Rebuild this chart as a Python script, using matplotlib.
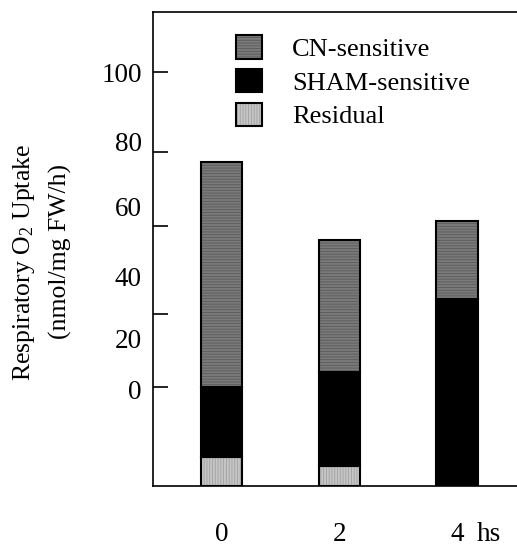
import matplotlib
matplotlib.use("Agg")
import matplotlib.pyplot as plt
from matplotlib.patches import Patch
from matplotlib.ticker import FixedLocator, FixedFormatter, NullFormatter

# values (baseline = bottom of the axis)
times = ["0", "2", "4"]
residual = [7.0, 4.8, 0.0]
sham = [17.0, 22.8, 45.2]
cn = [54.3, 31.8, 18.9]

# tick marks and tick labels do not line up in the original figure
ytick_marks = [100, 80.7, 62.8, 41.5, 23.9]
ylabel_pos = [100, 83.3, 67.4, 50.7, 35.7, 23.4]
ylabel_txt = ["100", "80", "60", "40", "20", "0"]

plt.rcParams["font.family"] = ["Liberation Serif", "DejaVu Serif"]
plt.rcParams["mathtext.fontset"] = "custom"
plt.rcParams["mathtext.rm"] = "Liberation Serif"
plt.rcParams["mathtext.it"] = "Liberation Serif:italic"
plt.rcParams["hatch.linewidth"] = 0.6

CN_FACE, CN_HATCH = "#7a7a7a", "#5a5a5a"
RES_FACE, RES_HATCH = "#c6c6c6", "#a0a0a0"

fig = plt.figure(figsize=(5.17, 5.47), dpi=100)
ax = fig.add_axes([153 / 517, 1 - 486 / 547, 1 - 153 / 517, (486 - 12) / 547])

x = list(range(len(times)))
w = 0.35
bot_sham = residual
bot_cn = [r + s for r, s in zip(residual, sham)]


def hatched(vals, bottom, face, hcol, hatch):
    ax.bar(x, vals, w, bottom=bottom, color=face, edgecolor="none", linewidth=0)
    ax.bar(x, vals, w, bottom=bottom, facecolor="none", edgecolor=hcol,
           hatch=hatch, linewidth=0)
    for xi, v, b in zip(x, vals, bottom):
        if v > 0:
            ax.bar(xi, v, w, bottom=b, facecolor="none", edgecolor="black",
                   linewidth=1.5)


hatched(residual, [0, 0, 0], RES_FACE, RES_HATCH, "|" * 6)
ax.bar(x, sham, w, bottom=bot_sham, color="black", edgecolor="black", linewidth=1.5)
hatched(cn, bot_cn, CN_FACE, CN_HATCH, "-" * 6)

ax.set_xlim(-0.582, 2.51)
ax.set_ylim(0, 114.5)

ax.spines["right"].set_visible(False)
for side in ["left", "top", "bottom"]:
    ax.spines[side].set_linewidth(1.2)

ax.yaxis.remove_overlapping_locs = False
ax.yaxis.set_major_locator(FixedLocator(ytick_marks))
ax.yaxis.set_major_formatter(NullFormatter())
ax.yaxis.set_minor_locator(FixedLocator(ylabel_pos))
ax.yaxis.set_minor_formatter(FixedFormatter(ylabel_txt))
ax.tick_params(axis="y", which="major", direction="in", length=11, width=1.2)
ax.tick_params(axis="y", which="minor", length=0, pad=8, labelsize=19.5)

xpad = 26
ax.set_xticks(x)
ax.set_xticklabels(times)
ax.tick_params(axis="x", length=0, pad=xpad, labelsize=19.5)
ax.annotate("hs", xy=(2.27, 0), xycoords=("data", "axes fraction"),
            xytext=(0, -xpad), textcoords="offset points",
            ha="center", va="top", fontsize=19.5, annotation_clip=False)

fig.text(24 / 517, 1 - 262 / 547, r"Respiratory O$_2$ Uptake", rotation=90,
         ha="center", va="center", fontsize=18.5)
fig.text(60 / 517, 1 - 251 / 547, "(nmol/mg FW/h)", rotation=90,
         ha="center", va="center", fontsize=18.5)

names = ["CN-sensitive", "SHAM-sensitive", "Residual"]
handles = [
    (Patch(facecolor=CN_FACE, edgecolor="none"),
     Patch(facecolor="none", edgecolor=CN_HATCH, hatch="-" * 6, linewidth=0),
     Patch(facecolor="none", edgecolor="black", linewidth=1.5)),
    Patch(facecolor="black", edgecolor="black", linewidth=1.5),
    (Patch(facecolor=RES_FACE, edgecolor="none"),
     Patch(facecolor="none", edgecolor=RES_HATCH, hatch="|" * 6, linewidth=0),
     Patch(facecolor="none", edgecolor="black", linewidth=1.5)),
]
fig.legend(handles, names, loc="upper left",
           bbox_to_anchor=(236 / 517, 1 - 35 / 547), frameon=False,
           fontsize=19, handlelength=0.98, handleheight=1.0,
           handletextpad=1.15, labelspacing=0.3, borderpad=0, borderaxespad=0)

fig.savefig("out.png", dpi=100)
